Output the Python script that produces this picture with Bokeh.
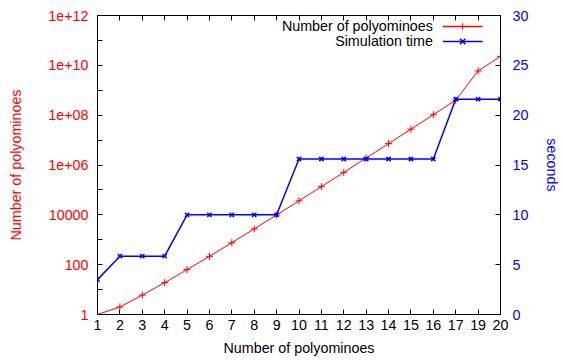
from bokeh.plotting import figure
from bokeh.models import Range1d, LinearAxis, FixedTicker, Label, PolyAnnotation, LinearScale
from bokeh.embed import file_html
from bokeh.resources import INLINE

# ---- data ----
sizes = ["1", "2", "3", "4", "5", "6", "7", "8", "9", "10",
         "11", "12", "13", "14", "15", "16", "17", "19", "20"]
polyominoes = [1, 2, 6, 19, 63, 216, 760, 2725, 9910, 36446,
               135268, 505861, 1903890, 7204874, 27394666, 104592937,
               400795844, 5940738676, 22964779660]
sim_seconds = [3.5, 5.85, 5.85, 5.85, 10, 10, 10, 10, 10, 15.6,
               15.6, 15.6, 15.6, 15.6, 15.6, 15.6, 21.6, 21.6, 21.6]
count_ticks = [1, 100, 10000, 1e6, 1e8, 1e10, 1e12]
count_tick_labels = ["1", "100", "10000", "1e+06", "1e+08", "1e+10", "1e+12"]
count_minor_ticks = [10, 1e3, 1e5, 1e7, 1e9, 1e11]
seconds_ticks = [0, 5, 10, 15, 20, 25, 30]

FONT = "Liberation Sans"
FS = "14.3px"
RED = "#ff0000"
BLUE = "#0000ff"

x_idx = list(range(len(sizes)))

p = figure(width=563, height=360, output_backend="svg", toolbar_location=None,
           x_range=Range1d(0, len(sizes) - 1), y_range=Range1d(1, 1e12),
           y_axis_type="log",
           min_border_left=97, min_border_right=60, min_border_top=15,
           min_border_bottom=46)
p.xgrid.visible = False
p.ygrid.visible = False
p.outline_line_color = "black"
p.outline_line_width = 1
p.background_fill_color = "white"
p.border_fill_color = "white"

p.extra_y_ranges = {"sec": Range1d(0, 30)}
p.extra_y_scales = {"sec": LinearScale()}

# bottom axis
xa = p.xaxis[0]
xa.ticker = FixedTicker(ticks=x_idx, minor_ticks=[])
xa.major_label_overrides = {i: s for i, s in enumerate(sizes)}
xa.axis_label = "Number of polyominoes"

# left axis
ya = p.yaxis[0]
ya.ticker = FixedTicker(ticks=count_ticks, minor_ticks=count_minor_ticks)
ya.major_label_overrides = {t: l for t, l in zip(count_ticks, count_tick_labels)}
ya.axis_label = "Number of polyominoes"

# right axis
ra = LinearAxis(y_range_name="sec", axis_label="seconds",
                ticker=FixedTicker(ticks=seconds_ticks, minor_ticks=[]))
p.add_layout(ra, "right")

# top axis (mirrored ticks only)
ta = LinearAxis(ticker=FixedTicker(ticks=x_idx, minor_ticks=[]))
p.add_layout(ta, "above")

for ax in (xa, ya, ra, ta):
    ax.axis_line_color = "black"
    ax.major_tick_in = 5
    ax.major_tick_out = 0
    ax.minor_tick_in = 5
    ax.minor_tick_out = 0
    ax.major_tick_line_color = "black"
    ax.minor_tick_line_color = "black"
    ax.major_label_text_font = FONT
    ax.major_label_text_font_size = FS
    ax.axis_label_text_font = FONT
    ax.axis_label_text_font_size = FS
    ax.axis_label_text_font_style = "normal"

xa.major_label_standoff = 5
xa.axis_label_standoff = 7
xa.major_label_text_color = "black"
xa.axis_label_text_color = "black"

ya.major_label_standoff = 9
ya.axis_label_standoff = 21
ya.major_label_text_color = RED
ya.axis_label_text_color = RED

ra.major_label_standoff = 12
ra.axis_label_standoff = 13
ra.major_label_text_color = BLUE
ra.axis_label_text_color = BLUE

ta.major_label_overrides = {i: "" for i in x_idx}
ta.major_label_standoff = 0
ta.axis_line_color = None

# data
p.line(x_idx, polyominoes, line_color=RED, line_width=1)
p.scatter(x_idx, polyominoes, marker="cross", size=7, line_color=RED, line_width=1)
p.line(x_idx, sim_seconds, line_color=BLUE, line_width=1.5, y_range_name="sec")
p.scatter(x_idx, sim_seconds, marker="x", size=6, line_color=BLUE, line_width=1.5,
          y_range_name="sec")

# manual legend (label left, sample right); positions given on the seconds scale
rows = [("Number of polyominoes", RED, "cross", 28.9),
        ("Simulation time", BLUE, "x", 27.4)]
tx, lx0, lx1, mx = 14.98, 15.43, 17.2, 16.31


def to_log(s):
    # the seconds scale (0..30) and the count scale (1..1e12) share pixels
    return 10 ** (s / 30.0 * 12.0)


def seg(xs, ys, col, lw):
    p.add_layout(PolyAnnotation(xs=xs, ys=[to_log(v) for v in ys],
                                fill_alpha=0, line_alpha=1.0,
                                line_color=col, line_width=lw))


for text, col, mk, yy in rows:
    p.add_layout(Label(x=tx, y=yy, y_range_name="sec", text=text,
                       text_align="right", text_baseline="middle",
                       text_font=FONT, text_font_size=FS, text_color="black"))
    seg([lx0, lx1], [yy, yy], col, 1.5)
    if mk == "cross":
        seg([mx, mx], [yy - 0.33, yy + 0.33], col, 1)
    else:
        dx, dy = 0.12, 0.27
        seg([mx - dx, mx + dx], [yy - dy, yy + dy], col, 1.5)
        seg([mx - dx, mx + dx], [yy + dy, yy - dy], col, 1.5)

open("out.html", "w").write(file_html(p, INLINE))
